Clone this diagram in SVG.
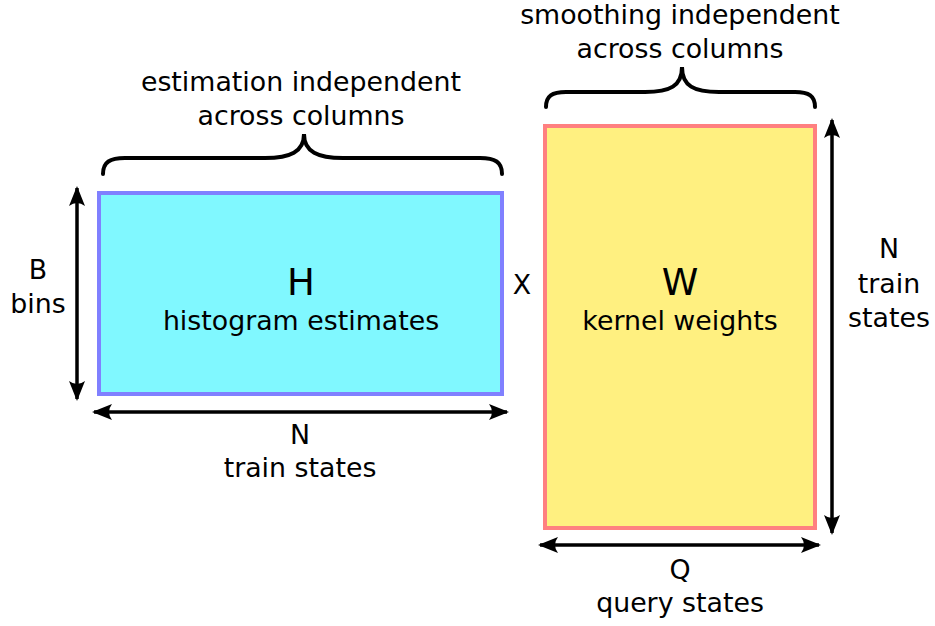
<svg xmlns="http://www.w3.org/2000/svg" width="935" height="626" viewBox="0 0 935 626">
  <style>
    text { font-family: "DejaVu Sans", "Liberation Sans", sans-serif; fill: #000; text-anchor: middle; }
    .lbl { font-size: 26.8px; }
    .big { font-size: 37px; }
    .brace { fill: none; stroke: #000; stroke-width: 4; stroke-linecap: round; }
    .dim { fill: none; stroke: #000; stroke-width: 3.5; marker-start: url(#head); marker-end: url(#head); }
  </style>
  <defs>
    <marker id="head" viewBox="-2 -9 21 18" markerWidth="21" markerHeight="18" refX="17" refY="0" orient="auto-start-reverse" markerUnits="userSpaceOnUse">
      <path d="M19 0 L-1 -8 Q5 0 -1 8 Z" fill="#000"/>
    </marker>
  </defs>

  <!-- matrix H -->
  <g id="H">
    <rect x="99" y="193" width="403" height="201" fill="#80f8ff" stroke="#8080ff" stroke-width="4"/>
    <text class="big" x="301" y="295">H</text>
    <text class="lbl" x="301" y="330">histogram estimates</text>
  </g>

  <!-- multiplication sign -->
  <g id="times">
    <text class="lbl" x="522" y="294">X</text>
  </g>

  <!-- matrix W -->
  <g id="W">
    <rect x="545" y="126" width="270" height="402" fill="#fff080" stroke="#ff8080" stroke-width="4"/>
    <text class="big" x="680" y="295">W</text>
    <text class="lbl" x="680" y="330">kernel weights</text>
  </g>

  <!-- labels -->
  <g id="label-estimation">
    <text class="lbl" x="301" y="91">estimation independent</text>
    <text class="lbl" x="301" y="125">across columns</text>
  </g>
  <g id="label-smoothing">
    <text class="lbl" x="680" y="24">smoothing independent</text>
    <text class="lbl" x="680" y="58">across columns</text>
  </g>
  <g id="label-bins">
    <text class="lbl" x="38" y="279">B</text>
    <text class="lbl" x="38" y="313">bins</text>
  </g>
  <g id="label-h-cols">
    <text class="lbl" x="300" y="444">N</text>
    <text class="lbl" x="300" y="477">train states</text>
  </g>
  <g id="label-w-rows">
    <text class="lbl" x="889" y="258">N</text>
    <text class="lbl" x="889" y="293">train</text>
    <text class="lbl" x="889" y="327">states</text>
  </g>
  <g id="label-query">
    <text class="lbl" x="680" y="579">Q</text>
    <text class="lbl" x="680" y="612">query states</text>
  </g>

  <!-- braces and dimension arrows -->
  <g id="connectors">
    <path class="brace" d="M103 174 C103 162 110 158 125 158 L265 158 C290 158 304 152 304 134 C304 152 318 158 343 158 L480 158 C495 158 502 162 502 174"/>
    <path class="brace" d="M546 107 C546 96 552 92 566 92 L645 92 C670 92 682 86 682 67 C682 86 694 92 719 92 L795 92 C809 92 815 96 815 107"/>
    <path class="dim" d="M77 188 L77 399"/>
    <path class="dim" d="M94 412 L507 412"/>
    <path class="dim" d="M832 120 L832 533"/>
    <path class="dim" d="M540 545 L819 545"/>
  </g>
</svg>
